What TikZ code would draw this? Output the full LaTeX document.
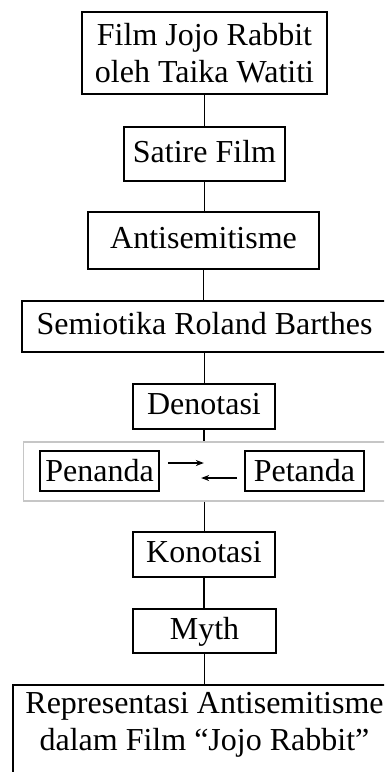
\documentclass[tikz,border=0pt]{standalone}
\usepackage{fontspec}
\setmainfont{Liberation Serif}
\usepackage{tikz}
\usetikzlibrary{arrows.meta}

\begin{document}
\begin{tikzpicture}[x=1pt, y=-1pt,
    box/.style={draw, line width=1.7pt, inner sep=0pt, align=center,
        font=\fontsize{32}{37}\selectfont},
    oneline/.style={box, text height=24pt, text depth=8pt},
    link/.style={line width=1.5pt},
    tanda/.style={-{Stealth[length=8pt,width=6pt]}, line width=1.2pt}]
    \useasboundingbox (0,0) rectangle (384,772);
    \clip (0,0) rectangle (384,772);
    \node[box, minimum width=245pt, minimum height=82pt] (film) at (204.5,53) {Film Jojo Rabbit\\oleh Taika Watiti};
    \node[oneline, minimum width=161pt, minimum height=54pt] (satire) at (204.5,154) {Satire Film};
    \node[oneline, minimum width=231pt, minimum height=57pt] (anti) at (203.5,240.5) {Antisemitisme};
    \node[oneline, minimum width=365pt, minimum height=51pt] (semio) at (204.5,326.5) {Semiotika Roland Barthes};
    \node[oneline, minimum width=142pt, minimum height=45pt] (denot) at (204,406.5) {Denotasi};
    \node[draw=gray!45, line width=1.5pt, minimum width=362pt, minimum height=59pt, inner sep=0pt] (pair) at (204.5,471.5) {};
    \node[oneline, minimum width=119pt, minimum height=40pt, text depth=3pt] (penanda) at (99.5,471) {Penanda};
    \node[oneline, minimum width=119pt, minimum height=40pt, text depth=3pt] (petanda) at (304.5,471) {Petanda};
    \node[oneline, minimum width=142pt, minimum height=45pt] (konot) at (204,554.5) {Konotasi};
    \node[oneline, minimum width=143pt, minimum height=44pt] (myth) at (204.5,631) {Myth};
    \node[box, draw=none, anchor=north, minimum width=381pt, inner ysep=6pt] (hasil) at (204.5,685) {Representasi Antisemitisme\\dalam Film ``Jojo Rabbit''};
    \draw[line width=1.7pt] ([yshift=-40pt]hasil.south west) |- (hasil.north east) -- ([yshift=-40pt]hasil.south east);
    \foreach \a/\b in {film/satire, satire/anti, anti/semio, semio/denot, denot/pair, pair/konot, konot/myth, myth/hasil}
        \draw[link] (\a.south) -- (\a.south |- \b.north);
    \draw[tanda] ([shift={(8pt,8pt)}]penanda.east) -- ++(36pt,0);
    \draw[tanda] ([shift={(-7pt,-7pt)}]petanda.west) -- ++(-36pt,0);
\end{tikzpicture}
\end{document}
